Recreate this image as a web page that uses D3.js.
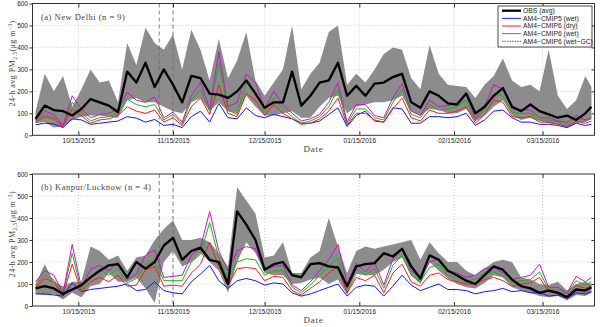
<!DOCTYPE html>
<html>
<head>
<meta charset="utf-8">
<script src="https://cdn.jsdelivr.net/npm/d3@7"></script>
<style>
  body { margin: 0; background: #fff; }
  .tick text { font-family: "Liberation Sans", Arial, sans-serif; font-size: 6.5px; fill: #222; }
</style>
</head>
<body>
<svg id="chart" width="600" height="327"></svg>
<script>
// sample dates (every 3 days, plus last day)
var dates = ["2015-10-01","2015-10-04","2015-10-07","2015-10-10","2015-10-13","2015-10-16","2015-10-19","2015-10-22","2015-10-25","2015-10-28",
  "2015-10-31","2015-11-03","2015-11-06","2015-11-09","2015-11-12","2015-11-15","2015-11-18","2015-11-21","2015-11-24","2015-11-27",
  "2015-11-30","2015-12-03","2015-12-06","2015-12-09","2015-12-12","2015-12-15","2015-12-18","2015-12-21","2015-12-24","2015-12-27",
  "2015-12-30","2016-01-02","2016-01-05","2016-01-08","2016-01-11","2016-01-14","2016-01-17","2016-01-20","2016-01-23","2016-01-26",
  "2016-01-29","2016-02-01","2016-02-04","2016-02-07","2016-02-10","2016-02-13","2016-02-16","2016-02-19","2016-02-22","2016-02-25",
  "2016-02-28","2016-03-02","2016-03-05","2016-03-08","2016-03-11","2016-03-14","2016-03-17","2016-03-20","2016-03-23","2016-03-26",
  "2016-03-29","2016-03-31"]

var tickDates = ["2015-10-15","2015-11-15","2015-12-15","2016-01-15","2016-02-15","2016-03-15"]
var tickLabels = ["10/15/2015","11/15/2015","12/15/2015","01/15/2016","02/15/2016","03/15/2016"]
var yTicks = [0, 100, 200, 300, 400, 500, 600]
var eventDates = ["2015-11-10 12", "2015-11-15 00"]

var seriesNames = ["OBS (avg)", "AM4\u2212CMIP5 (wet)", "AM4\u2212CMIP6 (dry)", "AM4\u2212CMIP6 (wet)", "AM4\u2212CMIP6 (wet\u2212GC)"]
var seriesColors = ["#000000", "#1414ff", "#ff1a1a", "#12b812", "#c814c8"]

// (a) New Delhi
var delhiObs = [75,135,115,110,90,120,165,150,135,105,290,240,330,220,300,230,150,270,
  260,190,185,170,200,250,190,125,150,150,290,135,180,240,250,330,180,225,180,235,240,265,
  280,150,125,200,180,145,140,190,100,130,180,215,130,110,140,110,95,80,90,70,100,130]
var delhiLo = [55,60,35,40,70,85,90,90,85,80,160,170,150,150,130,110,100,150,
  170,110,150,110,100,180,130,90,90,100,110,80,80,130,170,180,100,130,140,150,150,160,
  180,110,90,120,115,100,100,120,65,90,130,160,90,70,80,65,55,50,35,55,60,80]
var delhiHi = [110,280,200,270,130,210,300,240,250,150,420,320,490,420,390,460,300,480,
  390,250,440,260,340,470,250,180,240,300,500,210,280,330,470,500,230,280,240,300,370,400,
  390,260,210,410,280,230,225,220,170,230,270,350,250,220,230,200,390,180,120,160,270,220]
var delhiCmip5Wet = [48,55,52,35,75,70,50,55,60,65,85,78,60,72,45,50,35,85,
  110,60,145,80,75,125,90,80,95,85,75,55,55,65,95,125,40,90,110,65,60,125,
  120,55,55,85,85,80,85,100,45,70,110,115,80,60,60,50,50,45,35,55,45,50]
var delhiCmip6Dry = [60,85,75,38,120,90,55,70,75,90,130,110,100,115,60,80,45,130,
  170,95,230,100,85,190,160,90,140,100,75,50,55,75,110,170,45,100,100,70,60,120,
  170,80,65,115,100,100,110,130,55,95,160,150,85,80,85,60,60,50,40,65,55,65]
var delhiCmip6Wet = [68,95,85,42,150,105,65,80,85,105,165,140,130,140,70,95,52,160,
  210,110,330,115,95,240,200,105,170,120,85,55,65,85,130,210,50,120,120,80,70,150,
  210,95,80,140,115,120,130,160,65,115,190,180,105,100,100,70,70,60,50,80,65,75]
var delhiCmip6GC = [72,110,95,45,180,120,80,95,100,120,195,160,150,175,80,105,60,180,
  240,120,380,130,150,280,240,120,200,140,100,65,75,95,150,240,60,140,140,90,80,170,
  235,110,90,160,130,135,150,185,75,130,230,210,120,115,115,80,80,65,60,90,70,80]

// (b) Kanpur/Lucknow
var kanpurObs = [80,90,80,55,75,95,130,160,185,190,130,200,170,200,275,310,210,250,
  265,210,200,100,430,370,300,165,190,200,140,130,190,195,180,175,90,180,190,195,240,225,
  260,180,125,230,210,160,140,115,100,140,180,165,120,90,80,60,70,60,40,75,70,85]
var kanpurLo = [55,50,55,30,60,40,90,100,150,110,110,130,80,15,200,250,180,200,
  240,200,160,60,200,290,240,150,140,140,100,105,120,130,100,120,50,145,140,140,165,200,
  220,140,100,200,160,125,100,85,80,105,140,130,85,70,60,45,40,45,25,50,45,60]
var kanpurHi = [100,190,110,90,110,110,270,250,210,230,160,220,230,300,350,390,300,300,
  310,290,240,180,540,480,420,220,230,290,150,150,220,250,400,270,150,250,270,260,270,280,
  290,300,210,290,240,200,200,160,140,170,200,210,200,130,120,100,95,110,70,100,110,100]
var kanpurCmip5Wet = [55,55,50,45,105,65,75,80,85,90,100,70,75,110,70,60,55,110,
  145,185,115,80,115,125,115,95,105,100,60,45,55,70,85,100,45,85,95,90,45,90,
  140,95,70,85,100,75,75,70,55,65,70,80,65,70,60,60,45,50,35,60,55,65]
var kanpurCmip6Dry = [85,125,110,50,190,65,110,130,110,140,90,95,165,180,90,95,90,150,
  190,290,180,95,170,175,170,115,135,130,70,50,80,110,150,180,60,130,115,140,60,150,
  190,110,90,140,150,120,110,100,100,120,130,115,90,100,105,130,65,65,45,95,80,95]
var kanpurCmip6Wet = [95,140,120,55,240,70,135,165,140,170,105,125,190,205,115,115,115,200,
  235,380,220,130,200,215,210,140,160,160,85,60,95,140,180,220,80,170,140,170,80,185,
  230,140,110,175,190,140,130,115,120,150,155,135,105,115,120,155,75,75,55,115,95,110]
var kanpurCmip6GC = [110,160,140,60,280,85,165,185,160,200,120,145,230,255,130,135,140,230,
  265,430,250,160,250,270,260,165,180,185,95,70,110,160,210,280,100,195,155,200,95,215,
  260,160,130,200,215,160,150,130,140,170,175,150,120,130,140,190,85,85,60,135,110,130]

var parse = d3.timeParse("%Y-%m-%d")
var parseH = d3.timeParse("%Y-%m-%d %H")
var dd = dates.map(parse)

var svg = d3.select("#chart")

var x = d3.scaleTime()
  .domain([parse("2015-09-30"), parse("2016-04-01")])
  .range([32.5, 594.5])

var panels = [
  { top: 3.5, bottom: 135.3, label: "(a) New Delhi (n = 9)", legend: true,
    obs: delhiObs, lo: delhiLo, hi: delhiHi,
    models: [delhiCmip5Wet, delhiCmip6Dry, delhiCmip6Wet, delhiCmip6GC] },
  { top: 174, bottom: 306, label: "(b) Kanpur/Lucknow (n = 4)", legend: false,
    obs: kanpurObs, lo: kanpurLo, hi: kanpurHi,
    models: [kanpurCmip5Wet, kanpurCmip6Dry, kanpurCmip6Wet, kanpurCmip6GC] }
]

panels.forEach(function(p, pi) {
  var y = d3.scaleLinear().domain([0, 600]).range([p.bottom, p.top])
  var x0 = x.range()[0], x1 = x.range()[1]
  var g = svg.append("g")

  g.append("clipPath").attr("id", "clip" + pi)
    .append("rect").attr("x", x0).attr("y", p.top).attr("width", x1 - x0).attr("height", p.bottom - p.top)

  // grid
  g.selectAll(".hgrid").data(yTicks.slice(1, -1)).enter().append("line")
    .attr("x1", x0).attr("x2", x1)
    .attr("y1", function(d) { return y(d) }).attr("y2", function(d) { return y(d) })
    .attr("stroke", "#b4b4b4").attr("stroke-width", 0.7).attr("stroke-dasharray", "1,2")
  g.selectAll(".vgrid").data(tickDates).enter().append("line")
    .attr("x1", function(d) { return x(parse(d)) }).attr("x2", function(d) { return x(parse(d)) })
    .attr("y1", p.top).attr("y2", p.bottom)
    .attr("stroke", "#b4b4b4").attr("stroke-width", 0.7).attr("stroke-dasharray", "1,2")

  var plot = g.append("g").attr("clip-path", "url(#clip" + pi + ")")

  var area = d3.area()
    .x(function(d, i) { return x(dd[i]) })
    .y0(function(d, i) { return y(p.lo[i]) })
    .y1(function(d, i) { return y(p.hi[i]) })
  plot.append("path").datum(dd).attr("d", area).attr("fill", "#8c8c8c")

  // event lines
  plot.selectAll(".ev").data(eventDates).enter().append("line")
    .attr("x1", function(d) { return x(parseH(d)) }).attr("x2", function(d) { return x(parseH(d)) })
    .attr("y1", p.top).attr("y2", p.bottom)
    .attr("stroke", "#6a6a6a").attr("stroke-width", 0.8).attr("stroke-dasharray", "4,3")

  var line = d3.line()
    .x(function(d, i) { return x(dd[i]) })
    .y(function(d) { return y(d) })

  p.models.forEach(function(vals, j) {
    plot.append("path").datum(vals).attr("d", line)
      .attr("fill", "none").attr("stroke", seriesColors[j + 1]).attr("stroke-width", 1)
  })
  plot.append("path").datum(p.obs).attr("d", line)
    .attr("fill", "none").attr("stroke", "#000").attr("stroke-width", 2.3).attr("stroke-linejoin", "round")

  // axes
  g.append("g").attr("transform", "translate(" + x0 + ",0)")
    .call(d3.axisLeft(y).tickValues(yTicks).tickSize(3).tickPadding(1.5))
    .call(function(a) { a.select(".domain").remove() })
  g.append("g").attr("transform", "translate(" + x1 + ",0)")
    .call(d3.axisLeft(y).tickValues(yTicks.slice(1, -1)).tickSize(3).tickFormat(""))
    .call(function(a) { a.select(".domain").remove() })
  g.append("g").attr("transform", "translate(0," + p.bottom + ")")
    .call(d3.axisBottom(x).tickValues(tickDates.map(parse)).tickSizeInner(-4).tickSizeOuter(0).tickPadding(3.5)
      .tickFormat(function(d, i) { return tickLabels[i] }))
    .call(function(a) { a.select(".domain").remove() })
  g.append("g").attr("transform", "translate(0," + p.top + ")")
    .call(d3.axisTop(x).tickValues(tickDates.map(parse)).tickSizeInner(-4).tickSizeOuter(0).tickFormat(""))
    .call(function(a) { a.select(".domain").remove() })
  g.selectAll(".tick line").attr("stroke", "#333")

  g.append("rect").attr("x", x0).attr("y", p.top).attr("width", x1 - x0).attr("height", p.bottom - p.top)
    .attr("fill", "none").attr("stroke", "#333").attr("stroke-width", 1)

  // labels
  g.append("text").attr("x", 41).attr("y", p.top + 16)
    .style("font-family", "'Liberation Serif', serif").style("font-size", "8.5px")
    .style("letter-spacing", "0.5px").attr("fill", "#444").text(p.label)

  g.append("text").attr("x", (x0 + x1) / 2).attr("y", p.bottom + 17).attr("text-anchor", "middle")
    .style("font-family", "'Liberation Serif', serif").style("font-size", "9px")
    .style("letter-spacing", "0.8px").attr("fill", "#444").text("Date")

  var yl = g.append("text")
    .attr("transform", "translate(15," + ((p.top + p.bottom) / 2 - 6) + ") rotate(-90)")
    .attr("text-anchor", "middle")
    .style("font-family", "'Liberation Serif', serif").style("font-size", "8px")
    .style("letter-spacing", "0.45px").attr("fill", "#444")
  yl.append("tspan").text("24-h avg PM")
  yl.append("tspan").attr("dy", 2).style("font-size", "5.5px").text("2.5")
  yl.append("tspan").attr("dy", -2).text("(\u03bcg m")
  yl.append("tspan").attr("dy", -3).style("font-size", "5.5px").text("\u22123")
  yl.append("tspan").attr("dy", 3).text(")")

  if (p.legend) {
    var lg = g.append("g")
    lg.append("rect").attr("x", 498).attr("y", 6).attr("width", 94).attr("height", 41)
      .attr("fill", "#fff").attr("stroke", "#222").attr("stroke-width", 0.8)
    seriesNames.forEach(function(name, j) {
      var yy = 10.7 + j * 7.65
      lg.append("line").attr("x1", 502).attr("x2", 521).attr("y1", yy).attr("y2", yy)
        .attr("stroke", seriesColors[j]).attr("stroke-width", j == 0 ? 2.3 : 1)
        .attr("stroke-dasharray", j == 4 ? "1.5,1" : null)
      lg.append("text").attr("x", 523).attr("y", yy).attr("dy", "0.35em")
        .style("font-family", "'Liberation Sans', Arial, sans-serif").style("font-size", "6.8px")
        .attr("fill", "#222").text(name)
    })
  }
})
</script>
</body>
</html>
